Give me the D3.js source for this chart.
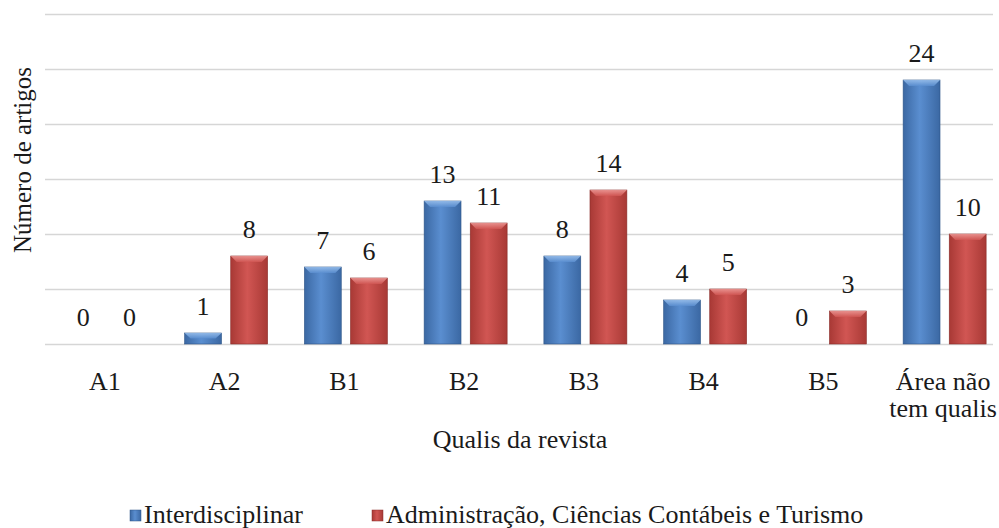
<!DOCTYPE html>
<html>
<head>
<meta charset="utf-8">
<script src="https://cdn.jsdelivr.net/npm/d3@7"></script>
</head>
<body style="margin:0">
<svg id="chart" width="999" height="528" font-family="Liberation Serif"></svg>
<script>
// Articles per journal Qualis stratum, by evaluation area
const categories = ["A1", "A2", "B1", "B2", "B3", "B4", "B5", "Área não\ntem qualis"];
const seriesNames = ["Interdisciplinar", "Administração, Ciências Contábeis e Turismo"];
const interdisciplinar = [0, 1, 7, 13, 8, 4, 0, 24];
const administracao = [0, 8, 6, 11, 14, 5, 3, 10];
const yTicks = [0, 5, 10, 15, 20, 25, 30];
const seriesValues = [interdisciplinar, administracao];

const svg = d3.select("#chart");
const plot = { left: 45, right: 1003, top: 14, bottom: 344, gridEnd: 993 };
const textColor = "#1a1a1a";
const serif = "Liberation Serif";
const fs = 26;

const x0 = d3.scaleBand().domain(categories).range([plot.left, plot.right]).paddingInner(0).paddingOuter(0);
const y = d3.scaleLinear().domain([0, 30]).range([plot.bottom, plot.top]);
const groupHalf = 41.5;
const x1 = d3.scaleBand().domain(seriesNames).range([-groupHalf, groupHalf]).paddingInner(0.2).paddingOuter(0);

const palette = {
  "Interdisciplinar": { edge: "#3b68a3", mid: "#5a8ed0", light: "#9cc2ee", dark: "#2f5688" },
  "Administração, Ciências Contábeis e Turismo": { edge: "#a83935", mid: "#d15653", light: "#ee9c99", dark: "#8a2d2a" }
};

// gradients for the bevelled bars
const defs = svg.append("defs");
seriesNames.forEach((s, i) => {
  const c = palette[s];
  const g = defs.append("linearGradient").attr("id", "grad" + i).attr("x1", "0").attr("x2", "1").attr("y1", "0").attr("y2", "0");
  g.append("stop").attr("offset", "0%").attr("stop-color", c.edge);
  g.append("stop").attr("offset", "45%").attr("stop-color", c.mid);
  g.append("stop").attr("offset", "100%").attr("stop-color", c.edge);
  const t = defs.append("linearGradient").attr("id", "top" + i).attr("x1", "0").attr("x2", "0").attr("y1", "0").attr("y2", "1");
  t.append("stop").attr("offset", "0%").attr("stop-color", c.light);
  t.append("stop").attr("offset", "100%").attr("stop-color", c.mid);
});

// horizontal gridlines
const yAxis = d3.axisLeft(y).tickValues(yTicks).tickSize(-(plot.gridEnd - plot.left)).tickFormat("");
const gAxis = svg.append("g").attr("transform", `translate(${plot.left},0)`).call(yAxis);
gAxis.select(".domain").remove();
gAxis.attr("font-family", null);
gAxis.selectAll(".tick line").attr("stroke", "#d6d6d6").attr("stroke-width", 1.6);

// bars
const groups = svg.append("g").selectAll("g").data(categories).join("g")
  .attr("transform", d => `translate(${x0(d) + x0.bandwidth() / 2 + 1.5},0)`);

const bars = groups.selectAll("g.bar")
  .data((d, ci) => seriesNames.map((s, si) => ({ s, si, v: seriesValues[si][ci] })))
  .join("g").attr("class", "bar");

bars.filter(d => d.v > 0).each(function(d) {
  const g = d3.select(this);
  const bx = x1(d.s), bw = x1.bandwidth();
  const top = y(d.v), h = y(0) - y(d.v);
  const c = palette[d.s];
  g.append("rect").attr("x", bx).attr("y", top).attr("width", bw).attr("height", h)
    .attr("fill", `url(#grad${d.si})`).attr("stroke", c.dark).attr("stroke-width", 0.6);
  const bev = Math.min(6, h / 2);
  g.append("path")
    .attr("d", `M${bx},${top} L${bx + bw},${top} L${bx + bw - 6},${top + bev} L${bx + 6},${top + bev} Z`)
    .attr("fill", `url(#top${d.si})`).attr("opacity", 0.85);
});

// helper: serif text node
function styleText(sel, size) {
  return sel.style("font-family", `"${serif}"`).attr("font-family", serif)
    .attr("font-size", size).attr("fill", textColor);
}

// value labels
styleText(bars.append("text")
  .attr("x", d => x1(d.s) + x1.bandwidth() / 2)
  .attr("y", d => y(d.v) - 18)
  .attr("text-anchor", "middle"), fs)
  .text(d => d.v);

// category labels (wrapped on "\n")
const catLabels = styleText(svg.append("g").selectAll("text").data(categories).join("text")
  .attr("x", d => x0(d) + x0.bandwidth() / 2)
  .attr("y", 390)
  .attr("text-anchor", "middle"), fs);
catLabels.each(function(d) {
  const lines = d.split("\n");
  d3.select(this).selectAll("tspan").data(lines).join("tspan")
    .attr("x", x0(d) + x0.bandwidth() / 2)
    .attr("dy", (l, i) => i === 0 ? 0 : 27)
    .text(l => l);
});

// axis titles
styleText(svg.append("text").attr("x", 520).attr("y", 448).attr("text-anchor", "middle"), fs)
  .text("Qualis da revista");
styleText(svg.append("text").attr("transform", "translate(31,160) rotate(-90)").attr("text-anchor", "middle"), 25)
  .text("Número de artigos");

// legend
const legendItems = [
  { name: seriesNames[0], x: 130, i: 0 },
  { name: seriesNames[1], x: 372, i: 1 }
];
const lg = svg.append("g").selectAll("g").data(legendItems).join("g")
  .attr("transform", d => `translate(${d.x},0)`);
lg.append("rect").attr("x", 0).attr("y", 510).attr("width", 11).attr("height", 11)
  .attr("fill", d => `url(#grad${d.i})`).attr("stroke", d => palette[d.name].dark).attr("stroke-width", 0.5);
styleText(lg.append("text").attr("x", 14).attr("y", 523), fs).text(d => d.name);
</script>
</body>
</html>
